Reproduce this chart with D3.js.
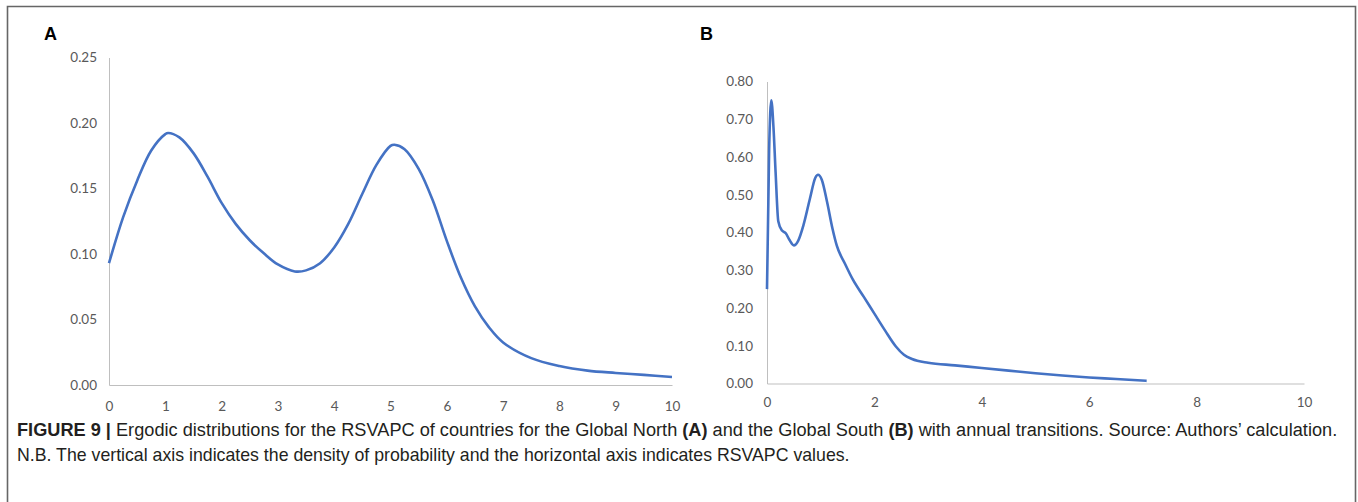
<!DOCTYPE html>
<html>
<head>
<meta charset="utf-8">
<script src="https://cdn.jsdelivr.net/npm/d3@7"></script>
<style>
  html, body { margin: 0; padding: 0; background: #fff; }
  svg { display: block; }
  .tick text { font-family: Lato, "Open Sans", sans-serif; font-size: 13.5px; fill: #595959; }
  .domain { stroke: #bfbfbf; stroke-width: 1; }
</style>
</head>
<body>
<svg id="fig" width="1358" height="502"></svg>
<script>
// Panel A: Global North ergodic distribution (RSVAPC value, density)
const northX = [0, 0.25, 0.5, 0.75, 1.0, 1.05, 1.25, 1.5, 1.75, 2.0, 2.25, 2.5, 2.75, 3.0, 3.3, 3.5, 3.75, 4.0,
                4.25, 4.5, 4.75, 5.0, 5.07, 5.25, 5.5, 5.75, 6.0, 6.25, 6.5, 6.75, 7.0, 7.5, 8.0, 8.5, 9.0, 9.5, 10];
const northY = [0.093, 0.128, 0.156, 0.179, 0.1915, 0.1924, 0.189, 0.177, 0.159, 0.139, 0.123, 0.1105, 0.1005,
                0.092, 0.0867, 0.0875, 0.093, 0.105, 0.123, 0.146, 0.168, 0.1825, 0.1834, 0.180, 0.165, 0.141,
                0.110, 0.082, 0.060, 0.044, 0.0325, 0.0205, 0.0145, 0.011, 0.0092, 0.0077, 0.0061];

// Panel B: Global South ergodic distribution
const southX = [0, 0.04, 0.08, 0.12, 0.16, 0.21, 0.28, 0.35, 0.42, 0.50, 0.58, 0.68, 0.80, 0.90, 0.95, 1.02,
                1.12, 1.22, 1.30, 1.45, 1.6, 1.8, 2.0, 2.2, 2.4, 2.55, 2.7, 3.0, 3.5, 4.0, 4.5, 5.0, 5.5, 6.0, 6.5, 7.07];
const southY = [0.25, 0.62, 0.75, 0.68, 0.56, 0.43, 0.405, 0.398, 0.38, 0.366, 0.378, 0.42, 0.49, 0.545, 0.553,
                0.54, 0.48, 0.41, 0.365, 0.318, 0.275, 0.23, 0.185, 0.14, 0.098, 0.076, 0.065, 0.055, 0.048, 0.041,
                0.034, 0.027, 0.021, 0.016, 0.012, 0.007];

// Axis ticks
const northXTicks = [0, 1, 2, 3, 4, 5, 6, 7, 8, 9, 10];
const northYTicks = [0, 0.05, 0.10, 0.15, 0.20, 0.25];
const southXTicks = [0, 2, 4, 6, 8, 10];
const southYTicks = [0, 0.1, 0.2, 0.3, 0.4, 0.5, 0.6, 0.7, 0.8];

const panelLabels = ["A", "B"];
const captionBold = "FIGURE 9 |";
const captionLine1 = [
  { t: " Ergodic distributions for the RSVAPC of countries for the Global North ", b: false },
  { t: "(A)", b: true },
  { t: " and the Global South ", b: false },
  { t: "(B)", b: true },
  { t: " with annual transitions. Source: Authors\u2019 calculation.", b: false }
];
const captionLine2 = "N.B. The vertical axis indicates the density of probability and the horizontal axis indicates RSVAPC values.";

const svg = d3.select("#fig");
const lineColor = "#4472c4";

// Frame around the figure
svg.append("path")
  .attr("d", "M7.5,502 V6.5 H1355.5 V502")
  .attr("fill", "none").attr("stroke", "#666").attr("stroke-width", 1.6);

function drawPanel(cfg) {
  const x = d3.scaleLinear().domain([0, 10]).range([cfg.x0, cfg.x1]);
  const y = d3.scaleLinear().domain([0, cfg.yMax]).range([cfg.yBottom, cfg.yTop]);

  const g = svg.append("g");

  g.append("g")
    .attr("transform", `translate(0,${cfg.yBottom})`)
    .call(d3.axisBottom(x).tickValues(cfg.xTicks).tickSize(0).tickSizeOuter(0).tickPadding(cfg.xPad)
      .tickFormat(d3.format("d")));

  g.append("g")
    .attr("transform", `translate(${cfg.x0},0)`)
    .call(d3.axisLeft(y).tickValues(cfg.yTicks).tickSize(0).tickSizeOuter(0).tickPadding(cfg.yPad)
      .tickFormat(d3.format(".2f")));

  const pts = cfg.xs.map((v, i) => [v, cfg.ys[i]]);
  g.append("path")
    .datum(pts)
    .attr("fill", "none")
    .attr("stroke", lineColor)
    .attr("stroke-width", 2.6)
    .attr("stroke-linejoin", "round")
    .attr("d", d3.line().x(d => x(d[0])).y(d => y(d[1])).curve(cfg.curve));

  svg.append("text")
    .attr("x", cfg.labelX).attr("y", 40)
    .attr("font-family", "Liberation Sans, Arial, sans-serif")
    .attr("font-weight", "bold").attr("font-size", 18)
    .attr("fill", "#000")
    .text(cfg.label);
}

drawPanel({
  x0: 109, x1: 672, yBottom: 385, yTop: 57.5, yMax: 0.25,
  xTicks: northXTicks, yTicks: northYTicks, xs: northX, ys: northY,
  xPad: 16, yPad: 12, label: panelLabels[0], labelX: 44,
  curve: d3.curveCatmullRom.alpha(0.5)
});

drawPanel({
  x0: 767, x1: 1304, yBottom: 383.5, yTop: 81.5, yMax: 0.8,
  xTicks: southXTicks, yTicks: southYTicks, xs: southX, ys: southY,
  xPad: 14, yPad: 14, label: panelLabels[1], labelX: 700,
  curve: d3.curveMonotoneX
});

// Caption
const capFont = "Liberation Sans, Arial, Helvetica, sans-serif";
function fitWidth(textSel, target) {
  const w = textSel.node().getComputedTextLength();
  const fs = parseFloat(textSel.attr("font-size"));
  textSel.attr("font-size", fs * target / w);
}

const cap1 = svg.append("text")
  .attr("x", 17).attr("y", 436)
  .attr("font-family", capFont).attr("font-size", 15).attr("fill", "#231f20");
cap1.append("tspan").attr("font-weight", "bold").text(captionBold);
captionLine1.forEach(s => cap1.append("tspan").attr("font-weight", s.b ? "bold" : "normal").text(s.t));
fitWidth(cap1, 1321);

const cap2 = svg.append("text")
  .attr("x", 17).attr("y", 461)
  .attr("font-family", capFont).attr("font-size", 15).attr("fill", "#231f20")
  .text(captionLine2);
fitWidth(cap2, 833);
</script>
</body>
</html>
